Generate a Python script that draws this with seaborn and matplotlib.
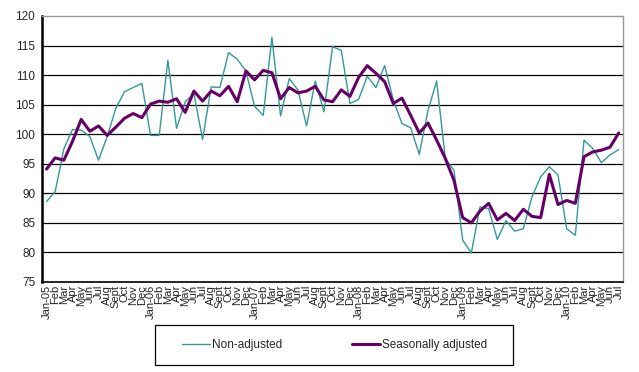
import numpy as np
import pandas as pd
import seaborn as sns
import matplotlib.pyplot as plt
from matplotlib.patches import Rectangle

# monthly index, Jan 2005 - Jul 2010
months = ["Jan", "Feb", "Mar", "Apr", "May", "Jun", "Jul", "Aug", "Sept", "Oct", "Nov", "Dec"]
years = ["05", "06", "07", "08", "09", "10"]

non_adjusted = [
    88.6, 90.3, 97.5, 100.8, 100.7, 99.6, 95.6, 99.6, 104.4, 107.2, 107.9, 108.6,
    99.8, 99.8, 112.5, 101.0, 105.5, 106.9, 99.1, 108.0, 107.9, 113.8, 112.7, 110.7,
    104.7, 103.2, 116.4, 103.1, 109.4, 107.5, 101.4, 109.0, 103.8, 114.8, 114.2, 105.2,
    105.9, 109.8, 107.9, 111.6, 105.8, 101.8, 101.1, 96.6, 104.0, 109.0, 95.9, 93.9,
    82.1, 79.9, 87.7, 87.4, 82.2, 85.4, 83.6, 84.0, 89.4, 92.8, 94.5, 93.1,
    84.0, 82.9, 99.0, 97.6, 95.2, 96.5, 97.4,
]
seasonally_adjusted = [
    94.1, 96.0, 95.6, 98.8, 102.5, 100.5, 101.4, 99.8, 101.2, 102.7, 103.5, 102.8,
    105.1, 105.6, 105.4, 106.0, 103.7, 107.3, 105.6, 107.3, 106.5, 108.1, 105.5, 110.7,
    109.2, 110.8, 110.4, 106.0, 107.9, 107.0, 107.3, 108.1, 105.8, 105.5, 107.5, 106.4,
    109.6, 111.6, 110.3, 108.9, 105.2, 106.1, 103.2, 100.2, 101.9, 99.0, 95.9, 92.2,
    85.9, 85.0, 87.0, 88.3, 85.5, 86.6, 85.4, 87.3, 86.1, 85.9, 93.2, 88.1,
    88.8, 88.3, 96.2, 97.0, 97.3, 97.8, 100.2,
]

labels = []
for y in years:
    for m in months:
        labels.append(f"{m}-{y}" if m == "Jan" else m)
labels = labels[:len(non_adjusted)]

df = pd.DataFrame({
    "pos": np.arange(len(labels)),
    "Non-adjusted": non_adjusted,
    "Seasonally adjusted": seasonally_adjusted,
})

sns.set_style("white")
plt.rcParams["font.family"] = ["Liberation Sans", "DejaVu Sans"]

fig = plt.figure(figsize=(6.39, 3.72), dpi=100)
ax = fig.add_axes([0.066, 0.242, 0.909, 0.715])

for y in range(80, 120, 5):
    ax.axhline(y, color="black", lw=0.9, zorder=0)

sns.lineplot(data=df, x="pos", y="Non-adjusted", ax=ax, color="#339999",
             lw=1.0, label="Non-adjusted", legend=False)
sns.lineplot(data=df, x="pos", y="Seasonally adjusted", ax=ax, color="#660066",
             lw=2.2, label="Seasonally adjusted", legend=False)

ax.set_xlim(-0.5, len(labels) - 0.5)
ax.set_ylim(75, 120)
ax.set_yticks(range(75, 121, 5))
ax.set_xticks(df["pos"])
ax.set_xticklabels(labels, rotation=90, fontsize=8)
ax.set_xticks(np.arange(-0.5, len(labels), 1), minor=True)
ax.tick_params(axis="x", which="major", length=0, pad=2)
ax.tick_params(axis="x", which="minor", length=3, width=0.8, direction="out", color="black")
ax.tick_params(axis="y", length=3, width=0.8, direction="out", color="black", labelsize=8.5, pad=2)
ax.set_xlabel("")
ax.set_ylabel("")

for side in ["top", "right"]:
    ax.spines[side].set_color("#999999")
    ax.spines[side].set_linewidth(1.0)
ax.spines["left"].set_color("black")
ax.spines["left"].set_linewidth(1.8)
ax.spines["bottom"].set_color("black")
ax.spines["bottom"].set_linewidth(1.2)

# legend box drawn separately, entries centred inside it
fig.patches.append(Rectangle((0.243, 0.019), 0.560, 0.107, transform=fig.transFigure,
                             fill=False, edgecolor="black", lw=0.9))
handles, lbls = ax.get_legend_handles_labels()
fig.legend(handles, lbls, loc="center", ncol=2, fontsize=8.5,
           bbox_to_anchor=(0.523, 0.073), frameon=False,
           handlelength=2.4, handletextpad=0.15, columnspacing=5.9)

fig.savefig("out.png", dpi=100)
